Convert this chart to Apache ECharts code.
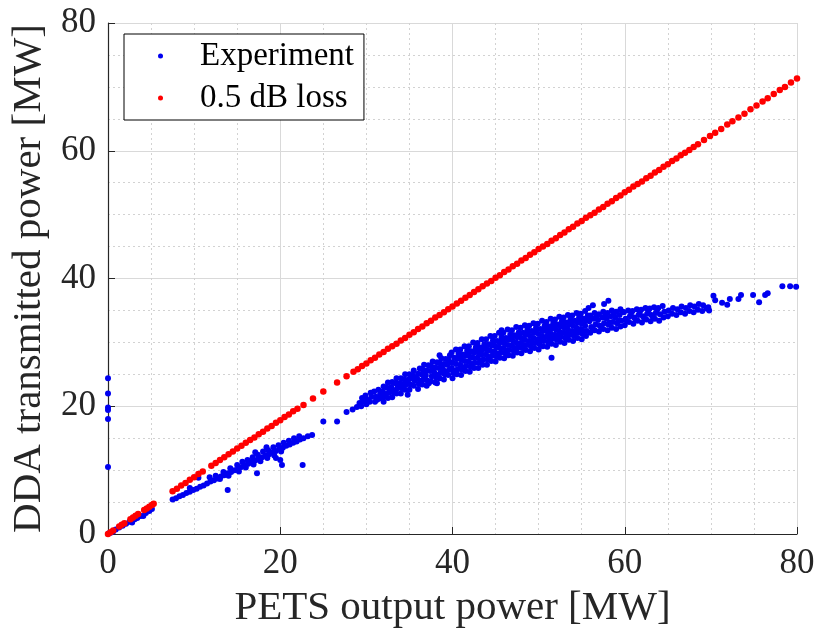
<!DOCTYPE html>
<html>
<head>
<meta charset="utf-8">
<script src="https://cdn.jsdelivr.net/npm/echarts@6/dist/echarts.min.js"></script>
<style>html,body{margin:0;padding:0;background:#fff;}#c{width:823px;height:639px;}</style>
</head>
<body>
<div id="c"></div>
<script>
var xTicks = [0, 20, 40, 60, 80];
var yTicks = [0, 20, 40, 60, 80];
var seriesNames = ['Experiment', '0.5 dB loss'];

// Experiment (blue): [PETS output power, DDA transmitted power] in MW
var experiment = [
[0,24.4],[0,22.0],[0,19.8],[0,19.4],[0,18.0],[0,10.5],[0.1,0.1],[0.3,0.2],
[0.6,0.4],[0.9,0.7],[1.3,1.0],[1.7,1.3],[2.1,1.6],[2.5,1.9],[2.8,1.8],[3.1,2.3],[3.4,2.5],[3.8,2.8],[4.1,2.8],[4.4,3.3],[4.8,3.6],[5.1,3.9],
[7.5,5.4],[7.9,5.6],[8.3,5.9],[8.7,6.1],[9.1,6.4],[9.5,6.6],[9.9,6.9],[10.3,7.1],[10.7,7.4],[11.1,7.6],[11.5,7.9],[11.9,8.2],[12.3,8.4],[12.7,8.7],[13.1,9.0],[13.5,9.2],[13.9,9.5],[14.3,9.7],[14.7,10.0],[15.1,10.2],[15.5,10.5],[15.9,10.8],[16.3,11.0],[16.7,11.3],[17.1,11.5],[17.5,11.8],[17.9,12.0],[18.3,12.3],[18.7,12.5],[19.1,12.8],[19.5,13.0],[19.9,13.3],[20.3,13.5],[20.7,13.8],[21.1,14.0],[21.5,14.3],[21.9,14.5],[22.3,14.8],[22.7,15.0],[23.2,15.3],[23.7,15.5],
[12.5,9.1],[13.4,9.7],[14.2,10.3],[15.0,10.8],[15.6,11.3],[16.2,11.6],[16.8,12.0],[17.4,12.4],[18.0,12.9],[18.6,13.1],[19.2,13.6],[19.8,13.9],[20.4,14.3],[21.0,14.6],[21.6,15.0],[22.2,15.3],
[13.0,8.6],[14.0,9.1],[15.2,9.8],[16.0,10.4],[16.9,10.9],[17.7,11.4],[18.5,11.9],[19.3,12.3],[20.1,12.9],
[10.5,8.8],[11.8,8.9],[13.9,6.9],[17.1,12.8],[18.4,13.6],[17.3,9.5],[20.0,11.6],[20.2,10.8],[22.6,10.8],[19.5,11.9],[9.5,7.2],
[25.0,17.6],[26.6,17.6],[27.7,19.1],[28.4,19.5],
[28.9,19.9],[29.2,20.5],[29.4,20.0],[29.6,20.7],[29.5,21.3],[30.0,20.3],[30.1,21.0],[29.9,21.7],[30.4,20.7],[30.6,21.5],[30.5,22.1],[31.0,20.7],[31.1,21.5],[30.9,22.3],[31.5,21.2],[31.6,21.9],[31.4,22.6],
[32.0,20.7],[32.1,21.5],[31.9,22.3],[32.0,23.1],[32.5,21.3],[32.6,22.1],[32.4,22.9],[32.5,23.7],[33.0,21.4],[33.1,22.2],[32.9,23.0],[33.0,23.8],[33.5,22.0],[33.6,22.8],[33.4,23.6],[33.5,24.4],
[34.0,22.0],[34.1,22.8],[33.9,23.6],[34.0,24.4],[34.5,22.6],[34.6,23.4],[34.4,24.2],[34.5,25.0],[35.0,22.6],[35.1,23.4],[34.9,24.2],[35.0,25.0],[35.5,23.2],[35.6,24.0],[35.4,24.8],[35.5,25.6],
[36.0,22.7],[36.1,23.5],[35.9,24.3],[36.0,25.1],[36.2,25.9],[36.5,23.4],[36.6,24.2],[36.4,25.0],[36.5,25.8],[36.7,26.5],
[37.0,23.2],[37.1,24.0],[36.9,24.8],[37.0,25.6],[37.2,26.4],[37.5,23.9],[37.6,24.7],[37.4,25.5],[37.5,26.3],[37.7,27.0],
[38.0,23.7],[38.1,24.5],[37.9,25.3],[38.0,26.1],[38.2,26.9],[38.5,24.4],[38.6,25.2],[38.4,26.0],[38.5,26.8],[38.7,27.5],
[39.0,24.2],[39.1,25.0],[38.9,25.8],[39.0,26.6],[39.2,27.4],[39.5,24.9],[39.6,25.7],[39.4,26.5],[39.5,27.3],[39.7,28.0],
[40.0,24.4],[40.1,25.2],[39.9,26.0],[40.0,26.8],[40.2,27.6],[39.9,28.4],[40.5,25.0],[40.6,25.8],[40.4,26.6],[40.5,27.4],[40.7,28.2],[40.4,28.9],
[41.0,24.9],[41.1,25.7],[40.9,26.5],[41.0,27.3],[41.2,28.1],[40.9,28.9],[41.5,25.5],[41.6,26.3],[41.4,27.1],[41.5,27.9],[41.7,28.7],[41.4,29.4],
[42.0,25.4],[42.1,26.2],[41.9,27.0],[42.0,27.8],[42.2,28.6],[41.9,29.4],[42.5,26.0],[42.6,26.8],[42.4,27.6],[42.5,28.4],[42.7,29.2],[42.4,30.0],
[43.0,26.0],[43.1,26.8],[42.9,27.6],[43.0,28.4],[43.2,29.2],[42.9,29.9],[43.5,26.5],[43.6,27.3],[43.4,28.1],[43.5,28.9],[43.7,29.7],[43.4,30.5],
[44.0,26.5],[44.1,27.3],[43.9,28.1],[44.0,28.9],[44.2,29.7],[43.9,30.5],[44.5,27.1],[44.6,27.9],[44.4,28.7],[44.5,29.5],[44.7,30.3],[44.4,31.0],
[45.0,27.0],[45.1,27.8],[44.9,28.6],[45.0,29.4],[45.2,30.2],[44.9,31.0],[45.5,27.6],[45.6,28.4],[45.4,29.2],[45.5,30.0],[45.7,30.8],[45.4,31.5],
[46.0,27.5],[46.1,28.3],[45.9,29.1],[46.0,29.9],[46.2,30.7],[45.9,31.5],[46.5,28.0],[46.6,28.8],[46.4,29.6],[46.5,30.4],[46.7,31.2],[46.4,32.0],
[47.0,27.9],[47.1,28.7],[46.9,29.5],[47.0,30.3],[47.2,31.1],[46.9,31.9],[47.5,28.4],[47.6,29.2],[47.4,30.0],[47.5,30.8],[47.7,31.6],[47.4,32.4],
[48.0,28.3],[48.1,29.1],[47.9,29.9],[48.0,30.7],[48.2,31.5],[47.9,32.3],[48.5,28.8],[48.6,29.6],[48.4,30.4],[48.5,31.2],[48.7,32.0],[48.4,32.7],
[49.0,28.6],[49.1,29.4],[48.9,30.2],[49.0,31.0],[49.2,31.8],[48.9,32.6],[49.5,29.1],[49.6,29.9],[49.4,30.7],[49.5,31.5],[49.7,32.3],[49.4,33.0],
[50.0,28.9],[50.1,29.7],[49.9,30.5],[50.0,31.3],[50.2,32.1],[49.9,32.9],[50.5,29.4],[50.6,30.2],[50.4,31.0],[50.5,31.8],[50.7,32.6],[50.4,33.4],
[51.0,29.3],[51.1,30.1],[50.9,30.9],[51.0,31.7],[51.2,32.5],[50.9,33.2],[51.5,29.8],[51.6,30.6],[51.4,31.4],[51.5,32.2],[51.7,33.0],[51.4,33.7],
[52.0,29.6],[52.1,30.4],[51.9,31.2],[52.0,32.0],[52.2,32.8],[51.9,33.6],[52.5,30.1],[52.6,30.9],[52.4,31.7],[52.5,32.5],[52.7,33.3],[52.4,34.0],
[53.0,29.9],[53.1,30.7],[52.9,31.5],[53.0,32.3],[53.2,33.1],[52.9,33.9],[53.5,30.4],[53.6,31.2],[53.4,32.0],[53.5,32.8],[53.7,33.6],[53.4,34.3],
[54.0,30.2],[54.1,31.0],[53.9,31.8],[54.0,32.6],[54.2,33.4],[53.9,34.2],[54.5,30.7],[54.6,31.5],[54.4,32.3],[54.5,33.1],[54.7,33.9],[54.4,34.6],
[55.0,30.5],[55.1,31.3],[54.9,32.1],[55.0,32.9],[55.2,33.7],[54.9,34.5],[55.5,31.0],[55.6,31.8],[55.4,32.6],[55.5,33.4],[55.7,34.2],[55.4,34.9],
[56.0,31.5],[56.1,32.4],[55.9,33.3],[56.0,34.2],[56.5,31.9],[56.6,32.8],[56.4,33.7],[56.5,34.6],
[57.0,31.7],[57.1,32.6],[56.9,33.5],[57.0,34.4],[57.5,32.1],[57.6,33.0],[57.4,33.9],[57.5,34.8],
[58.0,31.9],[58.1,32.8],[57.9,33.7],[58.0,34.6],[58.5,32.3],[58.6,33.2],[58.4,34.1],[58.5,35.0],
[59.0,32.1],[59.1,33.0],[58.9,33.9],[59.0,34.8],[59.5,32.5],[59.6,33.4],[59.4,34.3],[59.5,35.2],
[60.0,32.7],[60.1,33.7],[59.9,34.7],[60.5,33.2],[60.6,34.1],[60.4,35.0],[61.0,32.9],[61.1,33.9],[60.9,34.9],[61.5,33.4],[61.6,34.3],[61.4,35.2],
[62.0,33.1],[62.1,34.1],[61.9,35.1],[62.5,33.6],[62.6,34.5],[62.4,35.4],[63.0,33.3],[63.1,34.3],[62.9,35.3],[63.5,33.7],[63.6,34.6],[63.4,35.5],
[64.0,33.4],[64.1,34.4],[63.9,35.4],[64.5,33.9],[64.6,34.8],[64.4,35.7],
[65.0,34.1],[65.1,35.0],[65.5,34.5],[65.6,35.4],[66.0,34.3],[66.1,35.2],[66.5,34.7],[66.6,35.6],[67.0,34.5],[67.1,35.4],
[67.5,34.9],[67.6,35.8],[68.0,34.7],[68.1,35.6],[68.5,35.1],[68.6,36.0],[69.0,34.9],[69.1,35.8],[69.5,35.3],[69.7,35.5],[69.8,35.0],
[45.7,31.9],[51.5,27.6],[34.8,21.8],[38.2,23.6],[38.5,28.0],[56.3,35.8],[58.1,36.5],[57.6,36.0],[55.8,35.4],
[70.3,37.3],[70.5,36.6],[71.3,36.2],[71.9,35.9],[72.2,36.8],[73.2,36.8],[73.5,37.4],[74.9,37.4],[75.6,36.3],[76.3,37.4],[76.6,37.7],[78.3,38.8],[79.2,38.8],[79.9,38.7],
[31.25,21.0],[31.75,21.5],[32.25,21.9],[32.75,22.6],[33.25,22.5],[33.75,23.3],[34.25,23.4],[34.75,23.9],[35.25,24.4],[35.75,24.5],
[36.25,24.0],[36.75,25.3],[37.25,23.6],[37.75,25.9],[38.25,24.9],[38.75,26.3],[39.25,25.4],[39.75,26.9],[40.25,25.6],[40.75,27.7],
[41.25,26.1],[41.75,28.3],[42.25,26.6],[42.75,28.9],[43.25,27.2],[43.75,29.3],[44.25,27.7],[44.75,30.0],[45.25,28.2],[45.75,30.3],
[46.25,28.7],[46.75,30.8],[47.25,29.1],[47.75,31.3],[48.25,29.6],[48.75,31.6],[49.25,30.0],[49.75,32.0],[50.25,30.4],[50.75,32.4],
[51.25,30.6],[51.75,32.7],[52.25,31.0],[52.75,33.0],[53.25,31.2],[53.75,33.2],[54.25,31.5],[54.75,33.5],[55.25,31.8],[55.75,33.8],
[56.25,32.3],[56.75,34.1],[57.25,32.4],[57.75,34.3],[58.25,33.1],[58.75,34.5],[59.25,33.4],[59.75,34.8],[60.25,33.3],[60.75,34.6],
[61.25,33.5],[61.75,34.8],[62.25,33.8],[62.75,35.0],[63.25,34.0],[63.75,35.1]
];

// 0.5 dB loss (red): [PETS output power, transmitted power] in MW
var loss05 = [
[0,0],[0.3,0.27],[0.6,0.53],[1.3,1.16],[1.6,1.43],[1.9,1.69],[2.6,2.32],[2.9,2.58],[3.2,2.85],[3.5,3.12],[4.2,3.74],[4.5,4.01],[4.8,4.28],[5.1,4.54],[5.3,4.72],
[7.5,6.7],[8,7.1],[8.5,7.6],[9,8.0],[9.5,8.5],[10,8.9],[10.5,9.4],[11,9.8],[12,10.7],[12.5,11.1],[13,11.6],[13.5,12.0],[14,12.5],[14.5,12.9],[15,13.4],[15.5,13.8],[16,14.3],[16.5,14.7],[17,15.1],[17.5,15.6],[18,16.0],[18.5,16.5],[19,16.9],[19.5,17.4],[20,17.8],[20.5,18.3],[21,18.7],[21.5,19.2],[22,19.6],
[22.7,20.2],[23.8,21.2],[25.0,22.3],[26.6,23.7],[27.7,24.7],[28.5,25.4],
[29,25.8],[29.5,26.3],[30,26.7],[30.5,27.2],[31,27.6],[31.5,28.1],[32,28.5],[32.5,29.0],[33,29.4],[33.5,29.8],[34,30.3],[34.5,30.7],[35,31.2],[35.5,31.6],[36,32.1],[36.5,32.5],[37,33.0],[37.5,33.4],[38,33.9],[38.5,34.3],[39,34.7],[39.5,35.2],
[40,35.6],[40.5,36.1],[41,36.5],[41.5,37.0],[42,37.4],[42.5,37.9],[43,38.3],[43.5,38.8],[44,39.2],[44.5,39.6],[45,40.1],[45.5,40.5],[46,41.0],[46.5,41.4],[47,41.9],[47.5,42.3],[48,42.8],[48.5,43.2],[49,43.7],[49.5,44.1],
[50,44.6],[50.5,45.0],[51,45.4],[51.5,45.9],[52,46.3],[52.5,46.8],[53,47.2],[53.5,47.7],[54,48.1],[54.5,48.6],[55,49.0],[55.5,49.5],[56,49.9],[56.5,50.3],[57,50.8],[57.5,51.2],[58,51.7],[58.5,52.1],[59,52.6],[59.5,53.0],
[60,53.5],[60.5,53.9],[61,54.4],[61.5,54.8],[62,55.2],[62.5,55.7],[63,56.1],[63.5,56.6],[64,57.0],[64.5,57.5],[65,57.9],[65.5,58.4],[66,58.8],[66.5,59.3],[67,59.7],[67.5,60.1],[68,60.6],
[68.5,61.0],[69.2,61.7],[69.9,62.3],[70.5,62.8],[71.2,63.4],[71.9,64.1],[72.5,64.6],[73.2,65.2],[73.9,65.8],[74.6,66.5],[75.3,67.1],[76.0,67.7],[76.6,68.2],[77.3,68.9],[78.0,69.5],[78.6,70.0],[79.3,70.7],[80.0,71.3]
];

var FONT = "'Liberation Serif','Times New Roman',serif";

function axisCommon(ticks) {
  return {
    type: 'value',
    min: ticks[0],
    max: ticks[ticks.length - 1],
    interval: ticks[1] - ticks[0],
    axisLine: { show: true, lineStyle: { color: '#262626', width: 1.2 } },
    axisTick: { show: true, inside: true, length: 7, lineStyle: { color: '#262626' } },
    axisLabel: { color: '#262626', fontFamily: FONT, fontSize: 35 },
    splitLine: { show: true, lineStyle: { color: '#d9d9d9', width: 1 } },
    minorTick: { show: false, splitNumber: 4 },
    minorSplitLine: { show: true, lineStyle: { color: '#d2d2d2', width: 1, type: [2, 3] } },
    nameLocation: 'middle',
    nameTextStyle: { color: '#262626', fontFamily: FONT, fontSize: 41 }
  };
}

var xAxis = axisCommon(xTicks);
xAxis.name = 'PETS output power [MW]';
xAxis.nameGap = 54;
xAxis.axisLabel.margin = 12;

var yAxis = axisCommon(yTicks);
yAxis.name = 'DDA transmitted power [MW]';
yAxis.nameGap = 56;
yAxis.axisLabel.margin = 12;

var chart = echarts.init(document.getElementById('c'), null, { renderer: 'canvas' });
chart.setOption({
  animation: false,
  backgroundColor: '#ffffff',
  grid: { left: 108, right: 26, top: 23, bottom: 105, containLabel: false },
  xAxis: xAxis,
  yAxis: yAxis,
  legend: {
    left: 124, top: 34,
    orient: 'vertical',
    backgroundColor: '#ffffff',
    borderColor: '#000000',
    borderWidth: 1,
    padding: [4, 10, 4, 34],
    itemGap: 6,
    itemWidth: 5, itemHeight: 5,
    icon: 'circle',
    textStyle: { color: '#000000', fontFamily: FONT, fontSize: 33, lineHeight: 36, padding: [0, 0, 0, 32] },
    data: seriesNames
  },
  series: [
    {
      name: seriesNames[0], type: 'scatter', symbol: 'circle', symbolSize: 6,
      itemStyle: { color: '#0000f0', opacity: 1 },
      data: experiment
    },
    {
      name: seriesNames[1], type: 'scatter', symbol: 'circle', symbolSize: 6.5,
      itemStyle: { color: '#ff0000', opacity: 1 },
      data: loss05
    }
  ]
});
</script>
</body>
</html>
